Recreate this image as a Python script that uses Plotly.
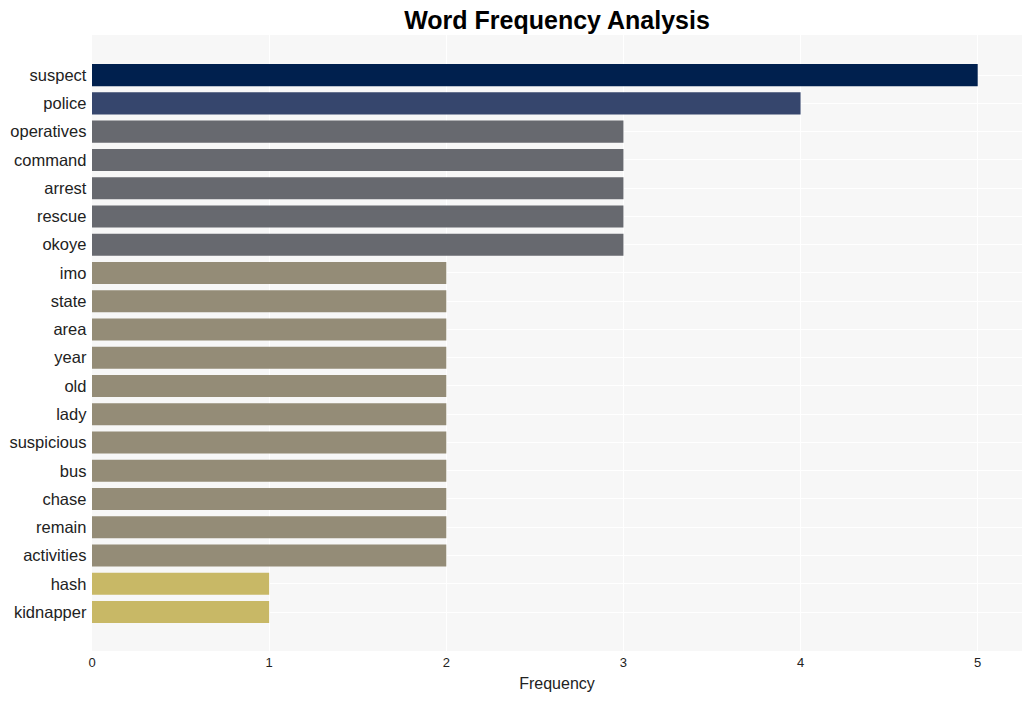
import plotly.graph_objects as go

words = ["suspect", "police", "operatives", "command", "arrest", "rescue", "okoye",
         "imo", "state", "area", "year", "old", "lady", "suspicious", "bus", "chase",
         "remain", "activities", "hash", "kidnapper"]
counts = [5, 4, 3, 3, 3, 3, 3, 2, 2, 2, 2, 2, 2, 2, 2, 2, 2, 2, 1, 1]
color_by_count = {5: "#00204e", 4: "#36466d", 3: "#67696f", 2: "#948c77", 1: "#c8b866"}
colors = [color_by_count[c] for c in counts]

fig = go.Figure(go.Bar(
    x=counts, y=words, orientation="h",
    marker=dict(color=colors, line=dict(width=0)),
    width=0.78,
))

fig.update_layout(
    width=1032, height=701,
    margin=dict(l=92, r=10, t=35, b=50),
    paper_bgcolor="white",
    plot_bgcolor="#f7f7f7",
    font=dict(family="Liberation Sans, Arial, sans-serif", color="#222222"),
    title=dict(text="<b>Word Frequency Analysis</b>", x=0.5, xref="paper", xanchor="center",
               y=1 - 20 / 701, yref="container", yanchor="middle",
               font=dict(size=25, color="black")),
    showlegend=False,
)
fig.update_xaxes(range=[0, 5.25], tickvals=[0, 1, 2, 3, 4, 5],
                 showgrid=True, gridcolor="white", gridwidth=1, zeroline=False,
                 ticklabelstandoff=2,
                 tickfont=dict(size=13),
                 title=dict(text="Frequency", font=dict(size=16), standoff=8))
fig.update_yaxes(autorange=False, range=[20.38, -1.42], showgrid=True,
                 gridcolor="white", gridwidth=1, tickfont=dict(size=16.5),
                 ticksuffix=" ")

fig.write_html("out.html")
